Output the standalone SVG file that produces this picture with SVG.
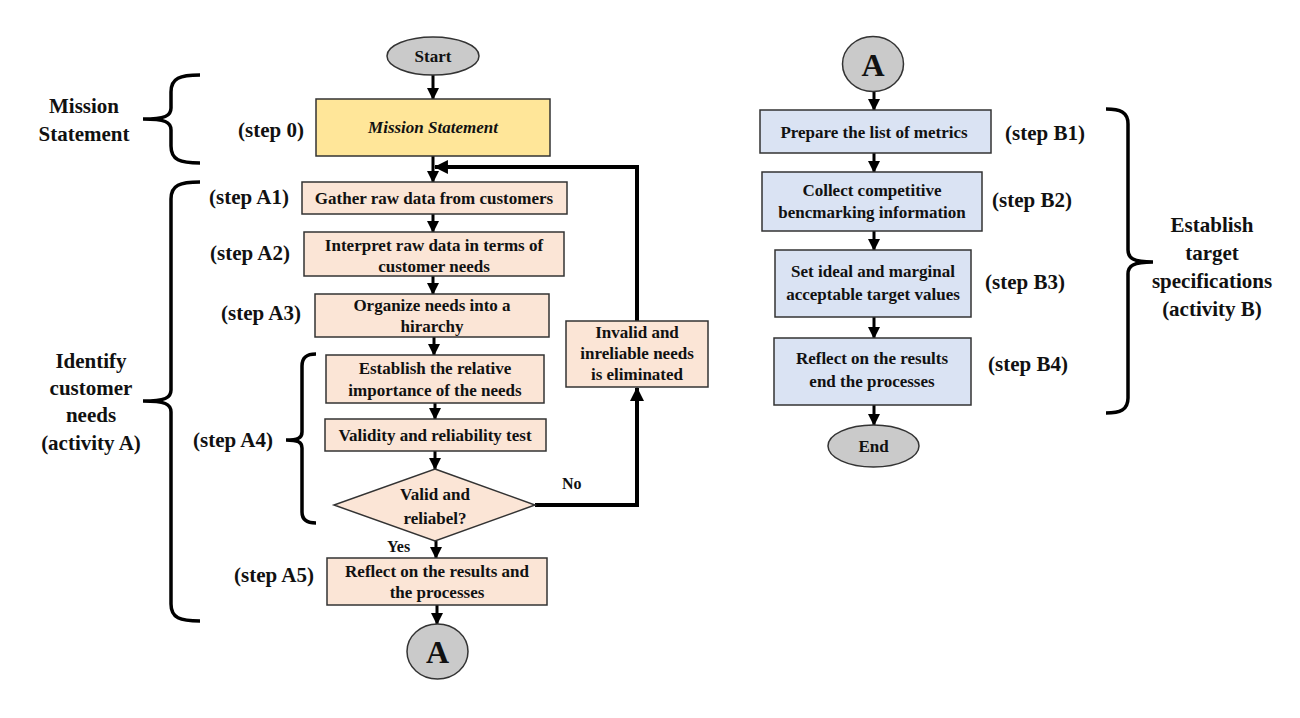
<svg xmlns="http://www.w3.org/2000/svg" width="1300" height="718" viewBox="0 0 1300 718">
<defs>
<style>
text{font-family:"Liberation Serif","Times New Roman",serif;font-weight:bold;fill:#111;}
.bt{font-size:17px;text-anchor:middle;}
.lab{font-size:21px;}
.big{font-size:21px;text-anchor:middle;}
.peach{fill:#FBE5D6;stroke:#333;stroke-width:1.5;}
.blue{fill:#DAE3F3;stroke:#333;stroke-width:1.5;}
.yel{fill:#FFE699;stroke:#333;stroke-width:1.5;}
.gray{fill:#CACACA;stroke:#333;stroke-width:1.5;}
.arr{stroke:#000;stroke-width:3;fill:none;marker-end:url(#ah);}
.thick{stroke:#000;stroke-width:4;fill:none;}
.brace{stroke:#000;stroke-width:3.5;fill:none;stroke-linecap:butt;}
</style>
<marker id="ah" markerUnits="userSpaceOnUse" markerWidth="12" markerHeight="12" refX="10" refY="5.5" orient="auto" viewBox="0 0 11 11">
<path d="M0,0 L11,5.5 L0,11 z" fill="#000"/>
</marker>
<marker id="ah2" markerUnits="userSpaceOnUse" markerWidth="14" markerHeight="14" refX="12" refY="6.5" orient="auto" viewBox="0 0 13 13">
<path d="M0,0 L13,6.5 L0,13 z" fill="#000"/>
</marker>
</defs>
<rect width="1300" height="718" fill="#fff"/>

<g id="braces">
<path class="brace" d="M200,75 C180,75 171,78 171,92 L171,108 C171,116 165,119 143,119 C165,119 171,122 171,130 L171,146 C171,160 180,163 200,163"/>
<path class="brace" d="M200,182 C180,182 171,185 171,199 L171,390 C171,398 165,401 143,401 C165,401 171,404 171,412 L171,604 C171,618 180,621 200,621"/>
<path class="brace" d="M316,354 C307,354 302,357 302,366 L302,432 C302,438 298,440 286,440 C298,440 302,442 302,448 L302,512 C302,520 307,523 316,523"/>
<path class="brace" d="M1106,109 C1120,109 1128,112 1128,124 L1128,250 C1128,258 1133,262 1153,262 C1133,262 1128,266 1128,274 L1128,398 C1128,410 1120,413 1106,413"/>
</g>

<g id="labels">
<text class="big" x="84" y="113">Mission</text>
<text class="big" x="84" y="141">Statement</text>
<text class="big" x="91" y="368">Identify</text>
<text class="big" x="91" y="395">customer</text>
<text class="big" x="91" y="422">needs</text>
<text class="big" x="91" y="450">(activity A)</text>
<text class="big" x="1212" y="232">Establish</text>
<text class="big" x="1212" y="260">target</text>
<text class="big" x="1212" y="288">specifications</text>
<text class="big" x="1212" y="316">(activity B)</text>
<text class="lab" x="238" y="137">(step 0)</text>
<text class="lab" x="209" y="204">(step A1)</text>
<text class="lab" x="210" y="260">(step A2)</text>
<text class="lab" x="221" y="320">(step A3)</text>
<text class="lab" x="193" y="447">(step A4)</text>
<text class="lab" x="234" y="582">(step A5)</text>
<text class="lab" x="1005" y="140">(step B1)</text>
<text class="lab" x="992" y="207">(step B2)</text>
<text class="lab" x="985" y="289">(step B3)</text>
<text class="lab" x="988" y="371">(step B4)</text>
<text x="562" y="489" style="font-size:16px">No</text>
<text x="387" y="552" style="font-size:16px">Yes</text>
</g>

<g id="connectors">
<line class="arr" x1="433" y1="75" x2="433" y2="99"/>
<line class="arr" x1="433" y1="156" x2="433" y2="182"/>
<line class="arr" x1="433" y1="214" x2="433" y2="232"/>
<line class="arr" x1="433" y1="276" x2="433" y2="294"/>
<line class="arr" x1="434" y1="337" x2="434" y2="355"/>
<line class="arr" x1="435" y1="403" x2="435" y2="419"/>
<line class="arr" x1="435" y1="451" x2="435" y2="469"/>
<line class="arr" x1="436" y1="541" x2="436" y2="558"/>
<line class="arr" x1="437" y1="605" x2="437" y2="624"/>
<path class="thick" d="M535,505 L637,505 L637,388" marker-end="url(#ah2)"/>
<path class="thick" d="M637,321 L637,167 L435,167" marker-end="url(#ah2)"/>
<line class="arr" x1="874" y1="92" x2="874" y2="110"/>
<line class="arr" x1="874" y1="153" x2="874" y2="172"/>
<line class="arr" x1="874" y1="231" x2="874" y2="250"/>
<line class="arr" x1="874" y1="317" x2="874" y2="338"/>
<line class="arr" x1="874" y1="405" x2="874" y2="425"/>
</g>

<g id="start">
<ellipse class="gray" cx="433" cy="56" rx="46" ry="19"/>
<text class="bt" x="433" y="62">Start</text>
</g>
<g id="step0">
<rect class="yel" x="316" y="99" width="234" height="57"/>
<text class="bt" x="433" y="133" style="font-style:italic">Mission Statement</text>
</g>
<g id="stepA1">
<rect class="peach" x="302" y="182" width="265" height="32"/>
<text class="bt" x="434" y="204">Gather raw data from customers</text>
</g>
<g id="stepA2">
<rect class="peach" x="304" y="232" width="260" height="44"/>
<text class="bt" x="434" y="251">Interpret raw data in  terms of</text>
<text class="bt" x="434" y="272">customer needs</text>
</g>
<g id="stepA3">
<rect class="peach" x="315" y="294" width="234" height="43"/>
<text class="bt" x="432" y="311">Organize needs into a</text>
<text class="bt" x="432" y="332">hirarchy</text>
</g>
<g id="stepA4a">
<rect class="peach" x="326" y="355" width="218" height="48"/>
<text class="bt" x="435" y="374">Establish  the relative</text>
<text class="bt" x="435" y="396">importance of the needs</text>
</g>
<g id="stepA4b">
<rect class="peach" x="325" y="419" width="221" height="32"/>
<text class="bt" x="435" y="441">Validity and reliability  test</text>
</g>
<g id="decision">
<polygon class="peach" points="435,469 535,505 435,541 334,505"/>
<text class="bt" x="435" y="500">Valid  and</text>
<text class="bt" x="435" y="524">reliabel?</text>
</g>
<g id="invalid">
<rect class="peach" x="566" y="321" width="142" height="66"/>
<text class="bt" x="637" y="338">Invalid  and</text>
<text class="bt" x="637" y="359">inreliable needs</text>
<text class="bt" x="637" y="380">is eliminated</text>
</g>
<g id="stepA5">
<rect class="peach" x="327" y="558" width="220" height="47"/>
<text class="bt" x="437" y="577">Reflect on the results and</text>
<text class="bt" x="437" y="598">the processes</text>
</g>
<g id="connA1">
<ellipse class="gray" cx="437.5" cy="651.5" rx="30.5" ry="27.5"/>
<text x="437.5" y="663" style="font-size:32px;text-anchor:middle">A</text>
</g>
<g id="connA2">
<ellipse class="gray" cx="873" cy="64" rx="30.5" ry="27.5"/>
<text x="873" y="76" style="font-size:32px;text-anchor:middle">A</text>
</g>
<g id="stepB1">
<rect class="blue" x="760" y="110" width="231" height="43"/>
<text class="bt" x="874" y="138">Prepare the list of metrics</text>
</g>
<g id="stepB2">
<rect class="blue" x="762" y="172" width="220" height="59"/>
<text class="bt" x="872" y="196">Collect competitive</text>
<text class="bt" x="872" y="218">bencmarking information</text>
</g>
<g id="stepB3">
<rect class="blue" x="775" y="250" width="196" height="67"/>
<text class="bt" x="873" y="277">Set ideal and marginal</text>
<text class="bt" x="873" y="300">acceptable target values</text>
</g>
<g id="stepB4">
<rect class="blue" x="774" y="338" width="197" height="67"/>
<text class="bt" x="872" y="364">Reflect on the results</text>
<text class="bt" x="872" y="387">end the processes</text>
</g>
<g id="end">
<ellipse class="gray" cx="873.5" cy="446" rx="45.5" ry="21"/>
<text class="bt" x="873.5" y="452">End</text>
</g>
</svg>
